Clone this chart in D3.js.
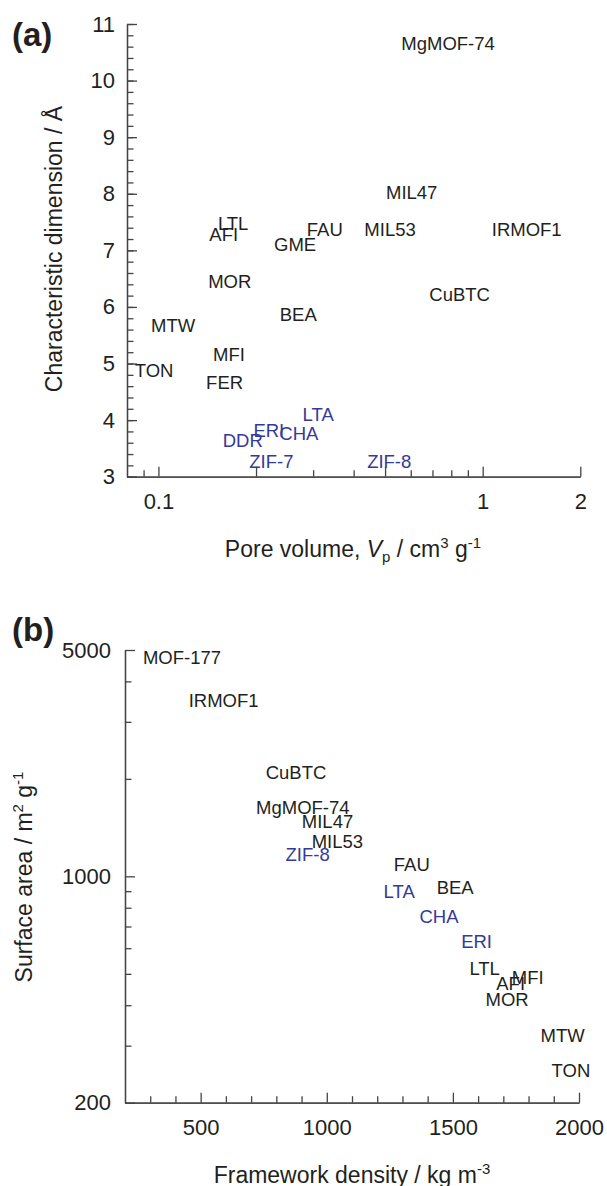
<!DOCTYPE html>
<html>
<head>
<meta charset="utf-8">
<script src="https://cdn.jsdelivr.net/npm/d3@7"></script>
<style>
  body { margin: 0; background: #fff; }
  svg { display: block; font-family: "Liberation Sans", Arial, Helvetica, sans-serif; }
  .axis path, .axis line { stroke: #444; stroke-width: 1.3; }
  .axis text { fill: #231f20; font-size: 22px; font-family: "Liberation Sans", Arial, sans-serif; }
</style>
</head>
<body>
<script>
// panel (a): pore volume vs characteristic dimension
var namesA = ["MgMOF-74","MIL47","FAU","MIL53","IRMOF1","GME","LTL","AFI","MOR","BEA","CuBTC",
              "MTW","MFI","TON","FER","DDR","ERI","CHA","LTA","ZIF-7","ZIF-8"]
var poreVol = [0.782,0.604,0.326,0.518,1.367,0.264,0.170,0.159,0.166,0.270,0.849,
               0.111,0.165,0.097,0.160,0.182,0.219,0.271,0.311,0.223,0.515]
var charDim = [10.66,8.03,7.38,7.38,7.38,7.11,7.48,7.28,6.45,5.87,6.23,
               5.68,5.16,4.88,4.66,3.65,3.82,3.77,4.10,3.27,3.27]

// panel (b): framework density vs surface area
var namesB = ["MOF-177","IRMOF1","CuBTC","MgMOF-74","MIL47","MIL53","ZIF-8","FAU","BEA","LTA",
              "CHA","ERI","LTL","AFI","MFI","MOR","MTW","TON"]
var density = [426,591,878,905,1003,1042,924,1337,1509,1287,1445,1594,1626,1729,1797,1715,1935,1968]
var surface = [4757,3504,2090,1638,1479,1279,1168,1089,925,899,754,631,520,466,488,416,323,252]

// labels drawn in blue (small pore zeolites and ZIFs)
var blueNames = ["DDR","ERI","CHA","LTA","ZIF-7","ZIF-8"]

// ticks
var yTicksA = [3,4,5,6,7,8,9,10,11]
var yMinorA = d3.range(3, 11.001, 0.2)
var xTicksA = [0.1,1,2]
var xMajorA = [0.1,0.2,0.5,1,2]
var xMinorA = [0.09,0.3,0.4,0.6,0.7,0.8,0.9]
var yTicksB = [200,1000,5000]
var yMinorB = [300,400,500,600,700,800,900,2000,3000,4000]
var xTicksB = [500,1000,1500,2000]
var xMinorB = [300,400,600,700,800,900,1100,1200,1300,1400,1600,1700,1800,1900]

var W = 607, H = 1186
var black = "#231f20", blue = "#353a98"

var svg = d3.select("body").append("svg").attr("width", W).attr("height", H)

var xA = d3.scaleLog().domain([0.08, 2]).range([127, 580.3])
var yA = d3.scaleLinear().domain([3, 11]).range([476.7, 24])
var xB = d3.scaleLinear().domain([200, 2000]).range([125, 579])
var yB = d3.scaleLog().domain([200, 5000]).range([1102.7, 650])

function drawAxes(x, y, yMajor, yMinor, yLabels, xMajor, xMinor, xLabels, yFmt, xFmt, pad) {
	var x0 = x.range()[0], y0 = y.range()[0]
	// minor ticks first
	svg.append("g").attr("class", "axis").attr("transform", "translate(" + x0 + ",0)")
		.call(d3.axisLeft(y).tickValues(yMinor).tickSizeInner(-6.5).tickSizeOuter(0).tickFormat(""))
	svg.append("g").attr("class", "axis").attr("transform", "translate(0," + y0 + ")")
		.call(d3.axisBottom(x).tickValues(xMinor).tickSizeInner(-6.5).tickSizeOuter(0).tickFormat(""))
	// major ticks
	svg.append("g").attr("class", "axis").attr("transform", "translate(" + x0 + ",0)")
		.call(d3.axisLeft(y).tickValues(yMajor).tickSizeInner(-10).tickSizeOuter(0).tickFormat(""))
	svg.append("g").attr("class", "axis").attr("transform", "translate(0," + y0 + ")")
		.call(d3.axisBottom(x).tickValues(xMajor).tickSizeInner(-10).tickSizeOuter(0).tickFormat(""))
	// labels
	var gy = svg.append("g").attr("class", "axis").attr("transform", "translate(" + x0 + ",0)")
		.call(d3.axisLeft(y).tickValues(yLabels).tickSize(0).tickPadding(pad).tickFormat(yFmt))
	gy.select(".domain").remove()
	var gx = svg.append("g").attr("class", "axis").attr("transform", "translate(0," + y0 + ")")
		.call(d3.axisBottom(x).tickValues(xLabels).tickSize(0).tickPadding(17).tickFormat(xFmt))
	gx.select(".domain").remove()
}

drawAxes(xA, yA, yTicksA, yMinorA, yTicksA, xMajorA, xMinorA, xTicksA, d3.format("d"), function(d) { return d }, 12)
drawAxes(xB, yB, yTicksB, yMinorB, yTicksB, xTicksB, xMinorB, xTicksB, d3.format("d"), d3.format("d"), 14)

function labels(names, xs, ys, x, y) {
	svg.append("g").selectAll("text")
		.data(names)
		.join("text")
		.attr("x", function(d, i) { return x(xs[i]) })
		.attr("y", function(d, i) { return y(ys[i]) })
		.attr("dy", "0.36em")
		.attr("text-anchor", "middle")
		.attr("font-size", 18.5)
		.attr("fill", function(d) { return blueNames.indexOf(d) >= 0 ? blue : black })
		.text(function(d) { return d })
}
labels(namesA, poreVol, charDim, xA, yA)
labels(namesB, density, surface, xB, yB)

// panel letters
svg.append("text").attr("x", 12).attr("y", 46).attr("font-size", 33).attr("font-weight", "bold")
	.attr("fill", black).text("(a)")
svg.append("text").attr("x", 12).attr("y", 641).attr("font-size", 33).attr("font-weight", "bold")
	.attr("fill", black).text("(b)")

// axis titles
var t = svg.append("text").attr("x", 353).attr("y", 556.5).attr("text-anchor", "middle")
	.attr("font-size", 23).attr("fill", black)
t.append("tspan").text("Pore volume, ")
t.append("tspan").attr("font-style", "italic").text("V")
t.append("tspan").attr("font-size", 15).attr("dy", 5).text("p")
t.append("tspan").attr("dy", -5).text(" / cm")
t.append("tspan").attr("font-size", 15).attr("dy", -9).text("3")
t.append("tspan").attr("dy", 9).text(" g")
t.append("tspan").attr("font-size", 15).attr("dy", -9).text("-1")

svg.append("text").attr("transform", "translate(61.5,249) rotate(-90)").attr("text-anchor", "middle")
	.attr("font-size", 23).attr("fill", black).text("Characteristic dimension / Å")

var t2 = svg.append("text").attr("transform", "translate(32.3,877) rotate(-90)").attr("text-anchor", "middle")
	.attr("font-size", 23).attr("fill", black)
t2.append("tspan").text("Surface area / m")
t2.append("tspan").attr("font-size", 15).attr("dy", -9).text("2")
t2.append("tspan").attr("dy", 9).text(" g")
t2.append("tspan").attr("font-size", 15).attr("dy", -9).text("-1")

var t3 = svg.append("text").attr("x", 352).attr("y", 1183).attr("text-anchor", "middle")
	.attr("font-size", 23).attr("fill", black)
t3.append("tspan").text("Framework density / kg m")
t3.append("tspan").attr("font-size", 15).attr("dy", -9).text("-3")
</script>
</body>
</html>
